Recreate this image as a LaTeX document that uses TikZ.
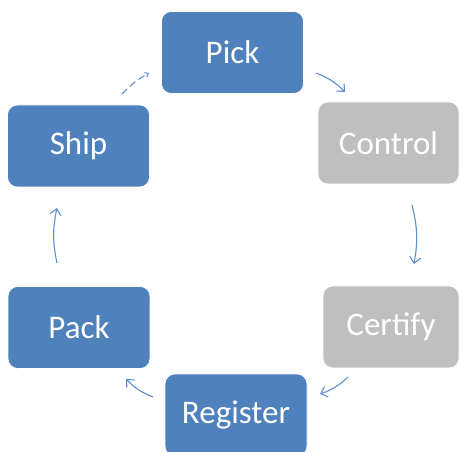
\documentclass[tikz,border=0pt]{standalone}
\usepackage{fontspec}
\setmainfont{Carlito}
\usetikzlibrary{arrows.meta}
\definecolor{stepblue}{HTML}{4F81BD}
\definecolor{stepgray}{HTML}{BFBFBF}
\definecolor{flowline}{HTML}{5B8FD3}
\begin{document}
\begin{tikzpicture}[x=1pt,y=1pt,
  stepbox/.style={rounded corners=10pt, minimum width=142pt, minimum height=82pt,
    inner sep=0pt, text=white, draw=white, line width=0.6pt,
    font=\fontsize{33}{36}\selectfont},
  done/.style={stepbox, fill=stepblue},
  todo/.style={stepbox, fill=stepgray},
  flow/.style={draw=flowline, line width=1.1pt,
    -{Straight Barb[length=6pt,width=11pt,line width=1.1pt]}, bend left=12}]
\useasboundingbox (0,0) rectangle (459,452);
% process steps
\node[done] (pick)     at (232.5,399.5) {Pick};
\node[todo, minimum width=141pt] (control)  at (388.5,309) {Control};
\node[todo, minimum width=136pt] (certify)  at (391,125) {Certify};
\node[done] (register) at (236,37)    {Register};
\node[done] (pack)     at (79,124.5)  {Pack};
\node[done] (ship)     at (78.5,306)  {Ship};
% connector end points around the cycle
\coordinate (a1) at (316,379); \coordinate (a2) at (345,360);
\coordinate (b1) at (412,247); \coordinate (b2) at (414,188);
\coordinate (c1) at (348,75);  \coordinate (c2) at (320,58);
\coordinate (d1) at (153,55);  \coordinate (d2) at (126,73);
\coordinate (e1) at (57,189);  \coordinate (e2) at (57,244);
\coordinate (f1) at (122,358); \coordinate (f2) at (149,379);
\draw[flow] (a1) to (a2);
\draw[flow] (b1) to (b2);
\draw[flow] (c1) to (c2);
\draw[flow] (d1) to (d2);
\draw[flow] (e1) to (e2);
\draw[draw=flowline, line width=1.1pt, dash pattern=on 7pt off 4pt,
  -{Straight Barb[length=3pt,width=5pt,line width=1.1pt]}, bend left=8] (f1) to (f2);
\end{tikzpicture}
\end{document}
